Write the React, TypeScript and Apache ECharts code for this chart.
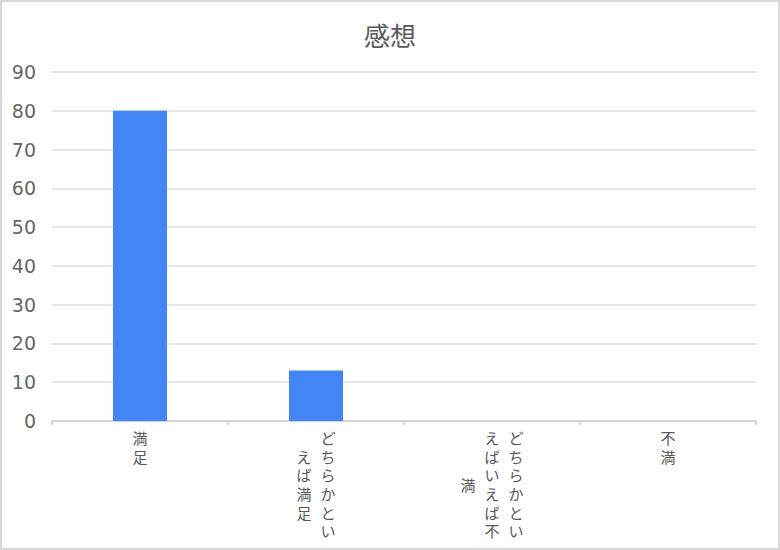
import { useEffect, useRef } from 'react'
import * as echarts from 'echarts'

const title = '感想'
const categories = ['満足', 'どちらかといえば満足', 'どちらかといえばいえば不満', '不満']
const values = [80, 13, 0, 0]
const yMax = 90
const yStep = 10

// characters per vertical column before wrapping to the next (left) column
const PER_COL = 6
const LINE_H = 18.7
const JP_FONT = '"Noto Sans CJK JP", sans-serif'

// Vertical (tategaki) label: one line per character row, columns read right to left.
// A shorter column is centred against the longest one; a half-row shift uses the "h" style.
function verticalLabel(text: string): string {
  const cols: string[] = []
  for (let i = 0; i < text.length; i += PER_COL) cols.push(text.slice(i, i + PER_COL))
  const longest = Math.max(...cols.map((c) => c.length))
  const ordered = cols.slice().reverse()
  const lines: string[] = []
  for (let j = 0; j < longest; j++) {
    const tokens = ordered.map((col) => {
      const diff = longest - col.length
      const k = j - Math.floor(diff / 2)
      const ch = k >= 0 && k < col.length ? col[k] : '　'
      return diff % 2 === 1 ? `{h|${ch}}` : `{c|${ch}}`
    })
    lines.push(tokens.join(''))
  }
  return lines.join('\n')
}

const charStyle = {
  fontFamily: JP_FONT,
  fontSize: 15,
  color: '#595959',
  width: 24,
  align: 'center',
  lineHeight: LINE_H,
}

export default function App() {
  const chartRef = useRef<HTMLDivElement>(null)

  useEffect(() => {
    document.body.style.margin = '0'
    if (!chartRef.current) return
    const chart = echarts.init(chartRef.current, undefined, { renderer: 'svg' })

    chart.setOption({
      animation: false,
      backgroundColor: '#fff',
      title: {
        text: title,
        left: 'center',
        top: 14,
        textStyle: {
          fontFamily: JP_FONT,
          fontSize: 26,
          fontWeight: 'normal',
          color: '#595959',
        },
      },
      grid: { left: 50, right: 22, top: 70, bottom: 127 },
      xAxis: {
        type: 'category',
        data: categories,
        axisLine: { lineStyle: { color: '#cccccc', width: 1.5 } },
        axisTick: { show: true, length: 4, lineStyle: { color: '#cccccc', width: 1.5 } },
        axisLabel: {
          interval: 0,
          margin: 7,
          formatter: (v: string) => verticalLabel(v),
          rich: {
            c: charStyle,
            h: { ...charStyle, padding: [LINE_H, 0, 0, 0] },
          },
        },
      },
      yAxis: {
        type: 'value',
        min: 0,
        max: yMax,
        interval: yStep,
        axisLine: { show: false },
        axisTick: { show: false },
        axisLabel: {
          margin: 16,
          fontFamily: 'DejaVu Sans',
          fontSize: 19,
          color: '#666666',
        },
        splitLine: { lineStyle: { color: '#dcdcdc', width: 1.5 } },
      },
      series: [
        {
          type: 'bar',
          data: values,
          barWidth: 54,
          itemStyle: { color: '#4285f4' },
        },
      ],
    })

    return () => chart.dispose()
  }, [])

  return (
    <div
      style={{
        width: 780,
        height: 550,
        boxSizing: 'border-box',
        border: '2px solid #d9d9d9',
        background: '#fff',
      }}
    >
      <div ref={chartRef} style={{ width: 776, height: 546 }} />
    </div>
  )
}
